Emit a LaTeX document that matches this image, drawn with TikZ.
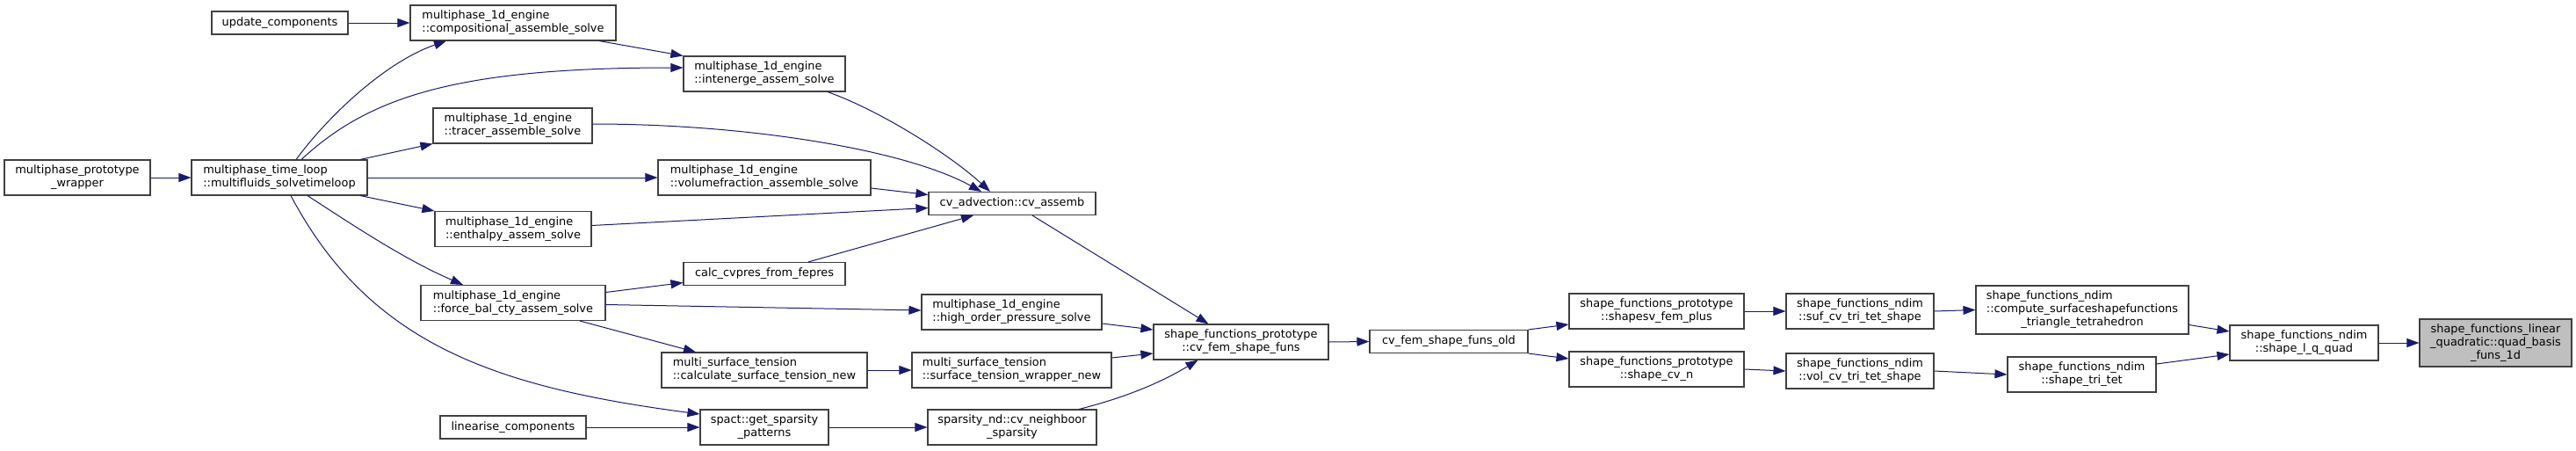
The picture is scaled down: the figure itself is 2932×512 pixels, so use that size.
\documentclass[tikz,border=0pt]{standalone}
\usepackage{fontspec}
\setmainfont{DejaVu Sans}
\usetikzlibrary{arrows.meta}

\definecolor{edgeblue}{HTML}{191970}
\definecolor{boxgrey}{HTML}{404040}
\definecolor{hlgrey}{HTML}{BFBFBF}

\begin{document}
\begin{tikzpicture}[
  x=1pt, y=-1pt,
  font=\fontsize{12.9}{15}\selectfont,
  fn box/.style    = {draw=boxgrey, fill=white, line width=1.1pt, inner sep=0pt, align=center},
  left box/.style  = {fn box, align=left},
  hl box/.style    = {fn box, fill=hlgrey},
  one line/.style  = {minimum height=26pt},
  two lines/.style = {minimum height=40pt},
  call/.style      = {draw=edgeblue, line width=1pt, -{Triangle[length=14pt,width=10pt]}},
]

% ── Page frame ─────────────────────────────────────────────────────────────
% one unit = one pixel of the 2932 x 512 graph, y counted downwards
\useasboundingbox (0,0) rectangle (2932,512);

% ── Callers, left part ─────────────────────────────────────────────────────
\node[fn box, two lines, minimum width=166pt]   (wrapper)   at (88,202)    {multiphase\_prototype\\\_wrapper};
\node[left box, two lines, minimum width=200pt] (tloop)     at (318,202)   {multiphase\_time\_loop\\::multifluids\_solvetimeloop};
\node[fn box, one line, minimum width=155pt]    (updcomp)   at (318.5,26)  {update\_components};
\node[left box, two lines, minimum width=234pt] (compasm)   at (584,26)    {multiphase\_1d\_engine\\::compositional\_assemble\_solve};
\node[left box, two lines, minimum width=184pt] (intenerge) at (870,84)    {multiphase\_1d\_engine\\::intenerge\_assem\_solve};
\node[left box, two lines, minimum width=181pt] (tracer)    at (583.5,143) {multiphase\_1d\_engine\\::tracer\_assemble\_solve};
\node[left box, two lines, minimum width=242pt] (volfrac)   at (870,202)   {multiphase\_1d\_engine\\::volumefraction\_assemble\_solve};
\node[left box, two lines, minimum width=178pt] (enthalpy)  at (584,260.5) {multiphase\_1d\_engine\\::enthalpy\_assem\_solve};
\node[left box, two lines, minimum width=210pt] (forcebal)  at (584,344.5) {multiphase\_1d\_engine\\::force\_bal\_cty\_assem\_solve};
\node[fn box, one line, minimum width=184pt]    (cvpres)    at (870,311.5) {calc\_cvpres\_from\_fepres};
\node[left box, two lines, minimum width=234pt] (calcst)    at (870,421)   {multi\_surface\_tension\\::calculate\_surface\_tension\_new};
\node[fn box, one line, minimum width=166pt]    (lincomp)   at (584,486)   {linearise\_components};
\node[fn box, two lines, minimum width=146pt]   (spact)     at (870,486)   {spact::get\_sparsity\\\_patterns};

% ── Middle column ──────────────────────────────────────────────────────────
\node[fn box, one line, minimum width=190pt]    (cvassemb)  at (1152,231.5)  {cv\_advection::cv\_assemb};
\node[left box, two lines, minimum width=205pt] (hiorder)   at (1151.5,355)  {multiphase\_1d\_engine\\::high\_order\_pressure\_solve};
\node[left box, two lines, minimum width=227pt] (stwrap)    at (1151.5,421)  {multi\_surface\_tension\\::surface\_tension\_wrapper\_new};
\node[fn box, two lines, minimum width=192pt]   (spnd)      at (1152,486)    {sparsity\_nd::cv\_neighboor\\\_sparsity};
\node[fn box, two lines, minimum width=199pt]   (cvfem)     at (1412.5,389)  {shape\_functions\_prototype\\::cv\_fem\_shape\_funs};
\node[fn box, one line, minimum width=180pt]    (cvfemold)  at (1649,388.5)  {cv\_fem\_shape\_funs\_old};

% ── Right part, down to the documented routine ─────────────────────────────
\node[fn box, two lines, minimum width=199pt]   (shapesv)   at (1885.5,354)  {shape\_functions\_prototype\\::shapesv\_fem\_plus};
\node[fn box, two lines, minimum width=199pt]   (shapecvn)  at (1885.5,420)  {shape\_functions\_prototype\\::shape\_cv\_n};
\node[fn box, two lines, minimum width=168pt]   (sufcv)     at (2117,354)    {shape\_functions\_ndim\\::suf\_cv\_tri\_tet\_shape};
\node[fn box, two lines, minimum width=168pt]   (volcv)     at (2117,422)    {shape\_functions\_ndim\\::vol\_cv\_tri\_tet\_shape};
\node[fn box, minimum height=55pt, minimum width=242pt] (compsurf) at (2370,352.5)
  {\rlap{shape\_functions\_ndim}\phantom{::compute\_surfaceshapefunctions}\\::compute\_surfaceshapefunctions\\\_triangle\_tetrahedron};
\node[fn box, two lines, minimum width=169pt]   (tritet)    at (2369.5,426)  {shape\_functions\_ndim\\::shape\_tri\_tet};
\node[fn box, two lines, minimum width=169pt]   (lqquad)    at (2622.5,390)  {shape\_functions\_ndim\\::shape\_l\_q\_quad};
\node[hl box, minimum height=54pt, minimum width=173pt] (quadbasis) at (2840.5,390)
  {shape\_functions\_linear\\\_quadratic::quad\_basis\\\_funs\_1d};

% ── Calls out of the time loop ─────────────────────────────────────────────
\draw[call] (wrapper.east) -- (tloop.west);
\draw[call] (updcomp.east) -- (compasm.west);
\draw[call] ([xshift=19pt]tloop.north) .. controls (375,130) and (440,70) .. ([xshift=-76pt]compasm.south);
\draw[call] ([xshift=25pt]tloop.north) .. controls (420,110) and (520,77) .. ([yshift=7pt]intenerge.west);
\draw[call] ([xshift=92pt]tloop.north) -- (tracer.south west);
\draw[call] (tloop.east) -- (volfrac.west);
\draw[call] ([xshift=92pt]tloop.south) -- (enthalpy.north west);
\draw[call] ([xshift=32pt]tloop.south) .. controls (400,255) and (460,295) .. ([xshift=-57pt]forcebal.north);
\draw[call] ([xshift=13pt]tloop.south) .. controls (420,390) and (560,440) .. ([yshift=15pt]spact.west);

% ── Into cv_assemb ─────────────────────────────────────────────────────────
\draw[call] ([xshift=98pt]compasm.south) -- (intenerge.north west);
\draw[call] ([xshift=72pt]intenerge.south) .. controls (1000,125) and (1080,175) .. ([xshift=-25pt]cvassemb.north);
\draw[call] ([yshift=2pt]tracer.east) .. controls (850,141) and (1030,170) .. ([xshift=-35pt]cvassemb.north);
\draw[call] ([yshift=-12pt]volfrac.east) -- ([yshift=10pt]cvassemb.west);
\draw[call] ([yshift=4pt]enthalpy.east) -- ([yshift=-5pt]cvassemb.west);
\draw[call] ([xshift=50pt]cvpres.north) -- ([xshift=-44pt]cvassemb.south);

% ── Force balance branch ───────────────────────────────────────────────────
\draw[call] ([yshift=12pt]forcebal.east) -- ([yshift=-10pt]cvpres.west);
\draw[call] ([yshift=-2pt]forcebal.east) -- ([yshift=2pt]hiorder.west);
\draw[call] ([xshift=76pt]forcebal.south) -- ([xshift=-78pt]calcst.north);
\draw[call] (calcst.east) -- (stwrap.west);
\draw[call] (lincomp.east) -- (spact.west);
\draw[call] (spact.east) -- (spnd.west);

% ── Into cv_fem_shape_funs and on ──────────────────────────────────────────
\draw[call] ([xshift=23pt]cvassemb.south) -- ([xshift=-37pt]cvfem.north);
\draw[call] ([yshift=-13pt]hiorder.east) -- ([yshift=14pt]cvfem.west);
\draw[call] ([yshift=14pt]stwrap.east) -- ([yshift=-13pt]cvfem.west);
\draw[call] ([xshift=76pt]spnd.north) .. controls (1290,450) and (1330,430) .. ([xshift=-49pt]cvfem.south);
\draw[call] (cvfem.east) -- (cvfemold.west);
\draw[call] (cvfemold.north east) -- ([yshift=-15pt]shapesv.west);
\draw[call] (cvfemold.south east) -- ([yshift=12pt]shapecvn.west);
\draw[call] (shapesv.east) -- (sufcv.west);
\draw[call] (shapecvn.east) -- (volcv.west);
\draw[call] (sufcv.east) -- (compsurf.west);
\draw[call] (volcv.east) -- (tritet.west);
\draw[call] ([yshift=-17pt]compsurf.east) -- ([yshift=13pt]lqquad.west);
\draw[call] ([yshift=12pt]tritet.east) -- ([yshift=-13pt]lqquad.west);
\draw[call] (lqquad.east) -- (quadbasis.west);

\end{tikzpicture}
\end{document}
